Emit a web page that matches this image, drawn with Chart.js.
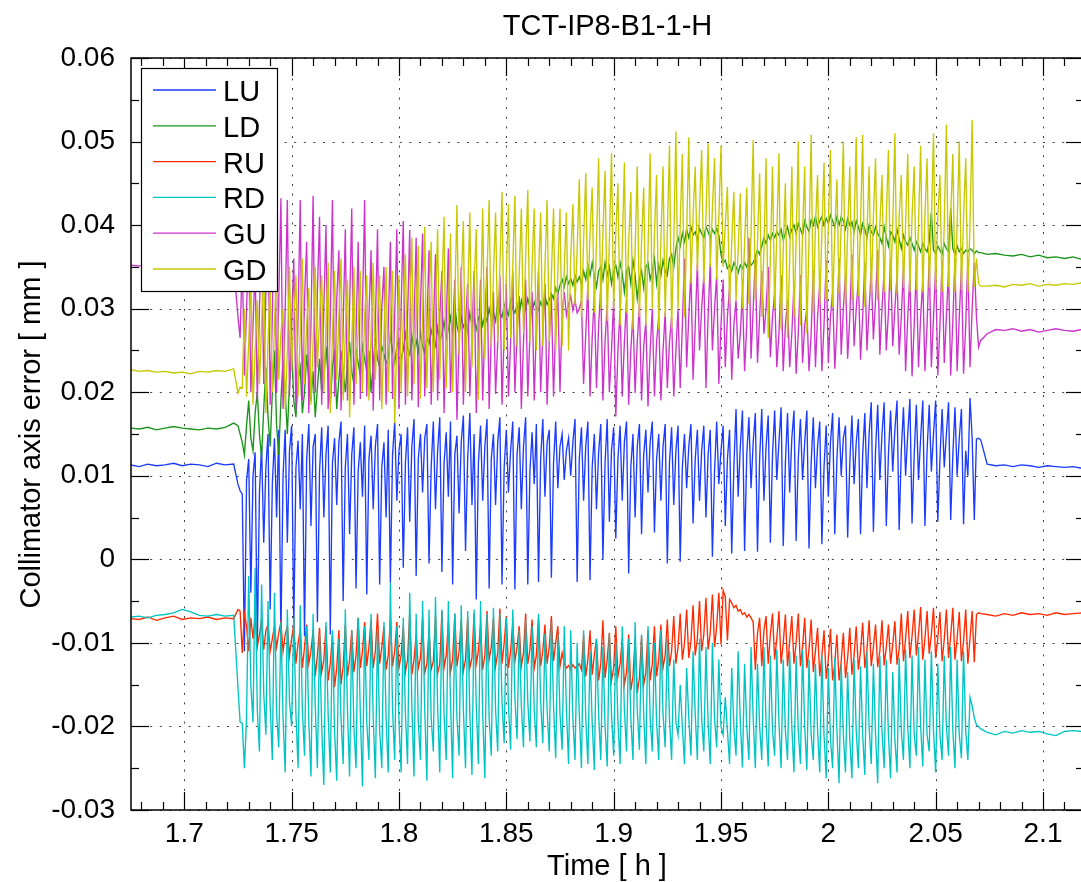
<!DOCTYPE html>
<html>
<head>
<meta charset="utf-8">
<title>TCT-IP8-B1-1-H</title>
<script src="https://cdn.jsdelivr.net/npm/chart.js@4"></script>
<style>
    html, body { margin: 0; padding: 0; background: #fff; overflow: hidden; }
    canvas { display: block; }
</style>
</head>
<body>
<canvas id="myChart" width="1090" height="882"></canvas>
<script>
/* data */
const time = [
    1.675,1.679,1.683,1.687,1.691,1.695,1.699,1.703,1.707,1.711,1.715,1.719,1.723,
    1.725,1.726,1.727,1.728,1.729,1.730,1.731,1.732,1.733,1.734,
    1.735,1.736,1.737,1.738,1.739,1.740,1.741,1.742,1.743,1.744,
    1.745,1.746,1.747,1.748,1.749,1.750,1.751,1.752,1.753,1.754,
    1.755,1.756,1.757,1.758,1.759,1.760,1.761,1.762,1.763,1.764,
    1.765,1.766,1.767,1.768,1.769,1.770,1.771,1.772,1.773,1.774,
    1.775,1.776,1.777,1.778,1.779,1.780,1.781,1.782,1.783,1.784,
    1.785,1.786,1.787,1.788,1.789,1.790,1.791,1.792,1.793,1.794,
    1.795,1.796,1.797,1.798,1.799,1.800,1.801,1.802,1.803,1.804,
    1.805,1.806,1.807,1.808,1.809,1.810,1.811,1.812,1.813,1.814,
    1.815,1.816,1.817,1.818,1.819,1.820,1.821,1.822,1.823,1.824,
    1.825,1.826,1.827,1.828,1.829,1.830,1.831,1.832,1.833,1.834,
    1.835,1.836,1.837,1.838,1.839,1.840,1.841,1.842,1.843,1.844,
    1.845,1.846,1.847,1.848,1.849,1.850,1.851,1.852,1.853,1.854,
    1.855,1.856,1.857,1.858,1.859,1.860,1.861,1.862,1.863,1.864,
    1.865,1.866,1.867,1.868,1.869,1.870,1.871,1.872,1.873,1.874,
    1.875,1.876,1.877,1.878,1.879,1.880,1.881,1.882,1.883,1.884,
    1.885,1.886,1.887,1.888,1.889,1.890,1.891,1.892,1.893,1.894,
    1.895,1.896,1.897,1.898,1.899,1.900,1.901,1.902,1.903,1.904,
    1.905,1.906,1.907,1.908,1.909,1.910,1.911,1.912,1.913,1.914,
    1.915,1.916,1.917,1.918,1.919,1.920,1.921,1.922,1.923,1.924,
    1.925,1.926,1.927,1.928,1.929,1.930,1.931,1.932,1.933,1.934,
    1.935,1.936,1.937,1.938,1.939,1.940,1.941,1.942,1.943,1.944,
    1.945,1.946,1.947,1.948,1.949,1.950,1.951,1.952,1.953,1.954,
    1.955,1.956,1.957,1.958,1.959,1.960,1.961,1.962,1.963,1.964,
    1.965,1.966,1.967,1.968,1.969,1.970,1.971,1.972,1.973,1.974,
    1.975,1.976,1.977,1.978,1.979,1.980,1.981,1.982,1.983,1.984,
    1.985,1.986,1.987,1.988,1.989,1.990,1.991,1.992,1.993,1.994,
    1.995,1.996,1.997,1.998,1.999,2.000,2.001,2.002,2.003,2.004,
    2.005,2.006,2.007,2.008,2.009,2.010,2.011,2.012,2.013,2.014,
    2.015,2.016,2.017,2.018,2.019,2.020,2.021,2.022,2.023,2.024,
    2.025,2.026,2.027,2.028,2.029,2.030,2.031,2.032,2.033,2.034,
    2.035,2.036,2.037,2.038,2.039,2.040,2.041,2.042,2.043,2.044,
    2.045,2.046,2.047,2.048,2.049,2.050,2.051,2.052,2.053,2.054,
    2.055,2.056,2.057,2.058,2.059,2.060,2.061,2.062,2.063,2.064,
    2.065,2.066,2.067,2.068,2.069,2.070,2.071,
    2.074,2.078,2.082,2.086,2.090,2.094,2.098,2.102,2.106,2.110,2.114,2.118,2.122
];

const LU = [
    0.0113,0.0111,0.0114,0.0112,0.0113,0.0115,0.0112,0.0114,0.0113,0.0111,0.0115,0.0113,0.0114,
    0.0090,0.0082,0.0078,-0.0110,0.0095,0.0120,-0.0040,0.0100,0.0128,-0.0105,
    0.0080,0.0135,0.0020,0.0110,0.0150,-0.0060,0.0090,0.0145,0.0050,0.0155,
    -0.0095,0.0100,0.0155,0.0020,0.0130,0.0160,-0.0085,0.0110,0.0142,0.0060,
    0.0150,-0.0092,0.0120,0.0162,0.0040,0.0135,0.0150,-0.0075,0.0105,0.0158,
    0.0050,0.0125,0.0160,-0.0090,0.0115,0.0145,0.0065,0.0140,0.0165,-0.0050,
    0.0110,0.0150,0.0030,0.0125,0.0158,-0.0035,0.0105,0.0140,0.0075,0.0160,
    -0.0042,0.0120,0.0148,0.0060,0.0135,0.0162,-0.0030,0.0110,0.0140,0.0050,
    0.0155,-0.0028,0.0125,0.0165,0.0070,0.0130,0.0150,-0.0010,0.0115,0.0158,
    0.0045,0.0135,0.0168,-0.0020,0.0120,0.0150,0.0080,0.0145,0.0162,-0.0005,
    0.0110,0.0165,0.0060,0.0130,0.0170,-0.0015,0.0115,0.0152,0.0075,0.0165,
    -0.0030,0.0125,0.0148,0.0055,0.0140,0.0172,0.0010,0.0120,0.0175,0.0065,
    0.0150,-0.0048,0.0115,0.0160,0.0070,0.0135,0.0168,-0.0035,0.0120,0.0150,
    0.0065,0.0140,0.0170,-0.0030,0.0110,0.0155,0.0080,0.0130,0.0165,-0.0036,
    0.0125,0.0158,0.0060,0.0135,0.0170,-0.0030,0.0105,0.0152,0.0090,0.0162,
    -0.0027,0.0120,0.0168,0.0075,0.0140,0.0155,-0.0022,0.0115,0.0165,0.0085,
    0.0135,0.0150,0.0095,0.0130,0.0145,0.0100,0.0140,0.0168,-0.0027,0.0120,
    0.0158,0.0070,0.0135,0.0165,-0.0025,0.0110,0.0150,0.0060,0.0128,0.0162,
    0.0000,0.0115,0.0168,0.0045,0.0130,0.0158,0.0025,0.0120,0.0160,0.0070,
    0.0140,0.0165,-0.0017,0.0110,0.0150,0.0050,0.0135,0.0162,0.0030,0.0125,
    0.0155,0.0080,0.0140,0.0165,0.0032,0.0120,0.0150,0.0070,0.0135,0.0162,
    -0.0005,0.0115,0.0158,0.0065,0.0130,0.0160,-0.0003,0.0110,0.0150,0.0085,
    0.0135,0.0162,0.0043,0.0120,0.0155,0.0070,0.0130,0.0160,0.0050,0.0125,
    0.0155,0.0003,0.0105,0.0165,0.0090,0.0130,0.0160,0.0040,0.0120,0.0155,
    0.0007,0.0110,0.0180,0.0075,0.0135,0.0178,0.0010,0.0125,0.0170,0.0085,
    0.0140,0.0175,0.0009,0.0120,0.0180,0.0070,0.0135,0.0172,0.0020,0.0125,
    0.0178,0.0095,0.0140,0.0182,0.0016,0.0115,0.0175,0.0080,0.0145,0.0178,
    0.0022,0.0120,0.0168,0.0095,0.0140,0.0178,0.0013,0.0115,0.0170,0.0085,
    0.0135,0.0165,0.0018,0.0110,0.0160,0.0075,0.0140,0.0175,0.0030,0.0120,
    0.0170,0.0100,0.0145,0.0160,0.0026,0.0115,0.0172,0.0090,0.0140,0.0168,
    0.0030,0.0125,0.0175,0.0085,0.0150,0.0188,0.0033,0.0130,0.0185,0.0095,
    0.0150,0.0188,0.0040,0.0125,0.0178,0.0105,0.0155,0.0190,0.0035,0.0130,
    0.0182,0.0100,0.0150,0.0192,0.0043,0.0125,0.0185,0.0095,0.0145,0.0190,
    0.0040,0.0130,0.0185,0.0105,0.0150,0.0190,0.0045,0.0120,0.0180,0.0110,
    0.0150,0.0188,0.0047,0.0125,0.0182,0.0100,0.0145,0.0180,0.0042,0.0130,
    0.0100,0.0193,0.0145,0.0047,0.0144,0.0145,0.0143,
    0.0114,0.0112,0.0113,0.0111,0.0113,0.0112,0.0110,0.0112,0.0111,0.0110,0.0111,0.0109,0.0110
];

const LD = [
    0.0157,0.0156,0.0158,0.0155,0.0157,0.0159,0.0157,0.0156,0.0155,0.0157,0.0156,0.0158,0.0163,
    0.0160,0.0150,0.0140,0.0125,0.0160,0.0190,0.0145,0.0130,0.0175,0.0200,
    0.0150,0.0122,0.0180,0.0230,0.0170,0.0135,0.0200,0.0250,0.0160,0.0125,
    0.0190,0.0240,0.0200,0.0150,0.0210,0.0255,0.0190,0.0170,0.0215,0.0230,
    0.0175,0.0200,0.0245,0.0215,0.0190,0.0225,0.0170,0.0205,0.0240,0.0200,
    0.0215,0.0255,0.0220,0.0185,0.0230,0.0250,0.0180,0.0215,0.0250,0.0225,
    0.0200,0.0235,0.0260,0.0225,0.0210,0.0250,0.0235,0.0220,0.0255,0.0240,
    0.0225,0.0250,0.0200,0.0235,0.0265,0.0240,0.0230,0.0255,0.0245,0.0235,
    0.0240,0.0270,0.0250,0.0235,0.0255,0.0262,0.0240,0.0250,0.0270,0.0252,
    0.0245,0.0268,0.0250,0.0262,0.0248,0.0272,0.0255,0.0247,0.0265,0.0258,
    0.0275,0.0262,0.0255,0.0278,0.0260,0.0270,0.0285,0.0265,0.0275,0.0290,
    0.0270,0.0305,0.0280,0.0268,0.0290,0.0278,0.0285,0.0272,0.0295,0.0280,
    0.0290,0.0275,0.0288,0.0295,0.0280,0.0292,0.0285,0.0300,0.0288,0.0295,
    0.0285,0.0310,0.0295,0.0290,0.0305,0.0298,0.0292,0.0310,0.0300,0.0295,
    0.0305,0.0292,0.0310,0.0300,0.0298,0.0312,0.0302,0.0295,0.0308,0.0300,
    0.0298,0.0308,0.0302,0.0315,0.0305,0.0310,0.0318,0.0312,0.0325,0.0318,
    0.0328,0.0335,0.0326,0.0338,0.0330,0.0336,0.0328,0.0340,0.0332,0.0338,
    0.0330,0.0345,0.0335,0.0352,0.0340,0.0355,0.0338,0.0326,0.0345,0.0350,
    0.0335,0.0355,0.0340,0.0350,0.0330,0.0345,0.0352,0.0338,0.0355,0.0342,
    0.0320,0.0345,0.0350,0.0330,0.0358,0.0340,0.0312,0.0335,0.0345,0.0325,
    0.0350,0.0355,0.0335,0.0345,0.0360,0.0330,0.0352,0.0340,0.0358,0.0345,
    0.0340,0.0360,0.0365,0.0350,0.0372,0.0385,0.0375,0.0390,0.0380,0.0395,
    0.0385,0.0398,0.0388,0.0392,0.0383,0.0396,0.0390,0.0385,0.0398,0.0392,
    0.0385,0.0395,0.0390,0.0396,0.0388,0.0365,0.0355,0.0358,0.0348,0.0352,
    0.0345,0.0355,0.0350,0.0343,0.0352,0.0348,0.0355,0.0350,0.0358,0.0352,
    0.0355,0.0362,0.0370,0.0365,0.0375,0.0385,0.0378,0.0388,0.0382,0.0390,
    0.0385,0.0392,0.0388,0.0395,0.0382,0.0390,0.0398,0.0386,0.0395,0.0400,
    0.0390,0.0402,0.0395,0.0388,0.0405,0.0398,0.0392,0.0406,0.0400,0.0410,
    0.0398,0.0405,0.0410,0.0400,0.0408,0.0402,0.0412,0.0405,0.0398,0.0410,
    0.0400,0.0410,0.0405,0.0395,0.0408,0.0400,0.0404,0.0392,0.0405,0.0398,
    0.0388,0.0402,0.0395,0.0385,0.0400,0.0392,0.0388,0.0398,0.0390,0.0385,
    0.0378,0.0398,0.0385,0.0375,0.0392,0.0388,0.0380,0.0395,0.0383,0.0372,
    0.0388,0.0380,0.0376,0.0385,0.0378,0.0370,0.0380,0.0375,0.0368,0.0378,
    0.0372,0.0368,0.0380,0.0415,0.0370,0.0366,0.0375,0.0370,0.0365,0.0378,
    0.0372,0.0368,0.0420,0.0372,0.0365,0.0375,0.0368,0.0372,0.0366,0.0370,
    0.0368,0.0372,0.0370,0.0366,0.0369,0.0367,0.0367,
    0.0365,0.0366,0.0364,0.0363,0.0365,0.0362,0.0364,0.0361,0.0362,0.0360,0.0362,0.0359,0.0360
];

const RU = [
    -0.0071,-0.0072,-0.0069,-0.0073,-0.0070,-0.0068,-0.0072,-0.0070,-0.0071,-0.0069,-0.0072,-0.0070,-0.0071,
    -0.0060,-0.0062,-0.0112,-0.0065,-0.0080,-0.0110,-0.0070,-0.0095,-0.0068,-0.0105,
    -0.0090,-0.0072,-0.0108,-0.0085,-0.0078,-0.0110,-0.0095,-0.0080,-0.0105,-0.0088,
    -0.0075,-0.0110,-0.0090,-0.0080,-0.0115,-0.0095,-0.0078,-0.0125,-0.0100,-0.0085,
    -0.0130,-0.0105,-0.0078,-0.0125,-0.0110,-0.0085,-0.0140,-0.0115,-0.0082,-0.0135,
    -0.0120,-0.0080,-0.0145,-0.0125,-0.0090,-0.0153,-0.0130,-0.0085,-0.0150,-0.0128,
    -0.0078,-0.0140,-0.0120,-0.0085,-0.0135,-0.0115,-0.0070,-0.0130,-0.0110,-0.0075,
    -0.0128,-0.0105,-0.0072,-0.0130,-0.0110,-0.0065,-0.0125,-0.0105,-0.0080,-0.0132,
    -0.0115,-0.0070,-0.0128,-0.0110,-0.0075,-0.0130,-0.0115,-0.0080,-0.0135,-0.0120,
    -0.0065,-0.0138,-0.0120,-0.0090,-0.0130,-0.0118,-0.0070,-0.0136,-0.0125,-0.0085,
    -0.0132,-0.0122,-0.0068,-0.0137,-0.0125,-0.0062,-0.0130,-0.0115,-0.0075,-0.0135,
    -0.0120,-0.0065,-0.0128,-0.0110,-0.0072,-0.0134,-0.0120,-0.0070,-0.0130,-0.0118,
    -0.0065,-0.0125,-0.0110,-0.0078,-0.0132,-0.0115,-0.0062,-0.0120,-0.0105,-0.0070,
    -0.0128,-0.0112,-0.0059,-0.0125,-0.0100,-0.0068,-0.0130,-0.0110,-0.0075,-0.0122,
    -0.0105,-0.0080,-0.0128,-0.0112,-0.0065,-0.0125,-0.0108,-0.0072,-0.0130,-0.0115,
    -0.0070,-0.0128,-0.0110,-0.0078,-0.0125,-0.0105,-0.0068,-0.0122,-0.0100,-0.0080,
    -0.0128,-0.0112,-0.0125,-0.0130,-0.0127,-0.0132,-0.0126,-0.0130,-0.0128,-0.0125,
    -0.0132,-0.0090,-0.0140,-0.0120,-0.0085,-0.0138,-0.0115,-0.0095,-0.0145,-0.0125,
    -0.0073,-0.0142,-0.0120,-0.0088,-0.0145,-0.0130,-0.0080,-0.0140,-0.0125,-0.0095,
    -0.0150,-0.0135,-0.0090,-0.0157,-0.0140,-0.0095,-0.0160,-0.0142,-0.0092,-0.0150,
    -0.0135,-0.0085,-0.0145,-0.0125,-0.0080,-0.0140,-0.0120,-0.0078,-0.0130,-0.0115,
    -0.0072,-0.0128,-0.0110,-0.0068,-0.0125,-0.0105,-0.0065,-0.0120,-0.0100,-0.0060,
    -0.0118,-0.0098,-0.0055,-0.0115,-0.0095,-0.0050,-0.0110,-0.0090,-0.0046,-0.0108,
    -0.0088,-0.0042,-0.0105,-0.0080,-0.0040,-0.0102,-0.0037,-0.0045,-0.0097,-0.0048,
    -0.0052,-0.0058,-0.0055,-0.0062,-0.0060,-0.0066,-0.0064,-0.0069,-0.0066,-0.0070,
    -0.0075,-0.0132,-0.0089,-0.0070,-0.0128,-0.0085,-0.0068,-0.0125,-0.0090,-0.0065,
    -0.0120,-0.0095,-0.0062,-0.0125,-0.0100,-0.0066,-0.0128,-0.0098,-0.0068,-0.0125,
    -0.0100,-0.0065,-0.0128,-0.0105,-0.0070,-0.0130,-0.0108,-0.0072,-0.0135,-0.0110,
    -0.0082,-0.0140,-0.0115,-0.0085,-0.0143,-0.0120,-0.0083,-0.0145,-0.0125,-0.0090,
    -0.0145,-0.0122,-0.0088,-0.0142,-0.0118,-0.0082,-0.0138,-0.0115,-0.0080,-0.0132,
    -0.0110,-0.0076,-0.0130,-0.0108,-0.0073,-0.0128,-0.0105,-0.0078,-0.0129,-0.0110,
    -0.0073,-0.0127,-0.0105,-0.0078,-0.0125,-0.0102,-0.0074,-0.0126,-0.0108,-0.0065,
    -0.0122,-0.0095,-0.0062,-0.0118,-0.0092,-0.0060,-0.0115,-0.0090,-0.0057,-0.0120,
    -0.0095,-0.0062,-0.0113,-0.0090,-0.0058,-0.0118,-0.0094,-0.0063,-0.0122,-0.0096,
    -0.0060,-0.0118,-0.0092,-0.0058,-0.0120,-0.0095,-0.0063,-0.0122,-0.0098,-0.0060,
    -0.0125,-0.0095,-0.0062,-0.0123,-0.0066,-0.0064,-0.0065,
    -0.0066,-0.0068,-0.0065,-0.0067,-0.0064,-0.0066,-0.0065,-0.0067,-0.0064,-0.0066,-0.0065,-0.0064,-0.0066
];

const RD = [
    -0.0069,-0.0068,-0.0070,-0.0067,-0.0066,-0.0064,-0.0060,-0.0063,-0.0067,-0.0068,-0.0066,-0.0068,-0.0067,
    -0.0153,-0.0195,-0.0196,-0.0250,-0.0190,-0.0020,-0.0150,-0.0195,-0.0010,-0.0180,
    -0.0230,-0.0030,-0.0160,-0.0210,-0.0050,-0.0175,-0.0240,-0.0040,-0.0185,-0.0225,
    -0.0075,-0.0190,-0.0255,-0.0060,-0.0170,-0.0200,-0.0070,-0.0185,-0.0250,-0.0055,
    -0.0180,-0.0235,-0.0080,-0.0195,-0.0260,-0.0065,-0.0175,-0.0250,-0.0090,-0.0200,
    -0.0270,-0.0075,-0.0185,-0.0255,-0.0085,-0.0205,-0.0265,-0.0095,-0.0190,-0.0245,
    -0.0060,-0.0180,-0.0260,-0.0085,-0.0200,-0.0250,-0.0070,-0.0185,-0.0272,-0.0080,
    -0.0195,-0.0240,-0.0065,-0.0190,-0.0262,-0.0085,-0.0205,-0.0250,-0.0075,-0.0190,
    -0.0255,-0.0028,-0.0180,-0.0240,-0.0080,-0.0195,-0.0255,-0.0070,-0.0185,-0.0245,
    -0.0040,-0.0175,-0.0260,-0.0065,-0.0195,-0.0240,-0.0050,-0.0180,-0.0265,-0.0060,
    -0.0190,-0.0230,-0.0045,-0.0175,-0.0255,-0.0060,-0.0185,-0.0240,-0.0050,-0.0170,
    -0.0262,-0.0065,-0.0190,-0.0235,-0.0055,-0.0180,-0.0250,-0.0062,-0.0185,-0.0258,
    -0.0060,-0.0175,-0.0245,-0.0050,-0.0185,-0.0262,-0.0065,-0.0190,-0.0235,-0.0058,
    -0.0180,-0.0230,-0.0065,-0.0170,-0.0220,-0.0070,-0.0175,-0.0228,-0.0060,-0.0165,
    -0.0215,-0.0085,-0.0175,-0.0225,-0.0072,-0.0170,-0.0218,-0.0080,-0.0180,-0.0225,
    -0.0065,-0.0170,-0.0220,-0.0089,-0.0180,-0.0230,-0.0075,-0.0175,-0.0238,-0.0090,
    -0.0185,-0.0228,-0.0080,-0.0180,-0.0245,-0.0085,-0.0190,-0.0240,-0.0100,-0.0185,
    -0.0250,-0.0085,-0.0190,-0.0245,-0.0110,-0.0195,-0.0252,-0.0095,-0.0185,-0.0240,
    -0.0105,-0.0200,-0.0248,-0.0090,-0.0185,-0.0235,-0.0100,-0.0195,-0.0245,-0.0080,
    -0.0180,-0.0230,-0.0095,-0.0190,-0.0240,-0.0075,-0.0180,-0.0228,-0.0090,-0.0185,
    -0.0245,-0.0080,-0.0190,-0.0230,-0.0100,-0.0195,-0.0240,-0.0085,-0.0185,-0.0225,
    -0.0095,-0.0190,-0.0240,-0.0120,-0.0195,-0.0210,-0.0150,-0.0200,-0.0245,-0.0130,
    -0.0190,-0.0235,-0.0110,-0.0185,-0.0240,-0.0095,-0.0190,-0.0230,-0.0105,-0.0195,
    -0.0245,-0.0100,-0.0190,-0.0225,-0.0120,-0.0200,-0.0210,-0.0165,-0.0205,-0.0245,
    -0.0130,-0.0200,-0.0235,-0.0110,-0.0195,-0.0249,-0.0125,-0.0200,-0.0240,-0.0105,
    -0.0190,-0.0250,-0.0125,-0.0200,-0.0240,-0.0105,-0.0195,-0.0248,-0.0115,-0.0205,
    -0.0235,-0.0108,-0.0195,-0.0250,-0.0120,-0.0205,-0.0240,-0.0110,-0.0200,-0.0255,
    -0.0115,-0.0205,-0.0245,-0.0108,-0.0200,-0.0252,-0.0120,-0.0210,-0.0240,-0.0125,
    -0.0205,-0.0255,-0.0115,-0.0210,-0.0262,-0.0130,-0.0215,-0.0250,-0.0118,-0.0205,
    -0.0268,-0.0125,-0.0210,-0.0255,-0.0135,-0.0215,-0.0262,-0.0120,-0.0205,-0.0250,
    -0.0128,-0.0210,-0.0258,-0.0110,-0.0200,-0.0245,-0.0125,-0.0210,-0.0268,-0.0115,
    -0.0205,-0.0250,-0.0120,-0.0210,-0.0262,-0.0135,-0.0215,-0.0255,-0.0118,-0.0205,
    -0.0240,-0.0108,-0.0200,-0.0250,-0.0115,-0.0210,-0.0235,-0.0105,-0.0200,-0.0248,
    -0.0120,-0.0210,-0.0230,-0.0110,-0.0205,-0.0255,-0.0125,-0.0210,-0.0240,-0.0115,
    -0.0200,-0.0235,-0.0105,-0.0205,-0.0250,-0.0120,-0.0210,-0.0238,-0.0110,-0.0205,
    -0.0240,-0.0165,-0.0175,-0.0190,-0.0198,-0.0200,-0.0203,
    -0.0207,-0.0210,-0.0206,-0.0208,-0.0205,-0.0207,-0.0206,-0.0209,-0.0211,-0.0206,-0.0205,-0.0206,-0.0204
];

const GU = [
    0.0352,0.0351,0.0353,0.0350,0.0352,0.0353,0.0351,0.0352,0.0350,0.0353,0.0351,0.0352,0.0352,
    0.0290,0.0265,0.0360,0.0220,0.0300,0.0380,0.0200,0.0280,0.0350,0.0190,
    0.0300,0.0395,0.0210,0.0320,0.0415,0.0185,0.0290,0.0457,0.0200,0.0310,
    0.0432,0.0180,0.0300,0.0430,0.0195,0.0280,0.0360,0.0178,0.0290,0.0430,
    0.0190,0.0310,0.0380,0.0175,0.0280,0.0435,0.0200,0.0320,0.0410,0.0185,
    0.0300,0.0400,0.0180,0.0290,0.0430,0.0195,0.0310,0.0370,0.0178,0.0280,
    0.0395,0.0190,0.0300,0.0420,0.0185,0.0270,0.0380,0.0192,0.0300,0.0430,
    0.0195,0.0290,0.0370,0.0178,0.0280,0.0395,0.0190,0.0300,0.0350,0.0185,
    0.0280,0.0380,0.0192,0.0290,0.0395,0.0180,0.0300,0.0405,0.0185,0.0290,
    0.0394,0.0190,0.0280,0.0385,0.0182,0.0300,0.0390,0.0195,0.0280,0.0370,
    0.0185,0.0270,0.0365,0.0190,0.0290,0.0345,0.0175,0.0280,0.0372,0.0199,
    0.0270,0.0335,0.0167,0.0260,0.0350,0.0185,0.0280,0.0330,0.0195,0.0270,
    0.0345,0.0175,0.0260,0.0335,0.0190,0.0280,0.0350,0.0180,0.0270,0.0320,
    0.0198,0.0260,0.0340,0.0185,0.0270,0.0330,0.0195,0.0260,0.0345,0.0200,
    0.0270,0.0315,0.0180,0.0260,0.0335,0.0195,0.0270,0.0320,0.0190,0.0280,
    0.0345,0.0200,0.0270,0.0330,0.0185,0.0260,0.0315,0.0195,0.0280,0.0320,
    0.0200,0.0295,0.0320,0.0292,0.0305,0.0315,0.0298,0.0310,0.0295,0.0300,
    0.0310,0.0210,0.0270,0.0330,0.0195,0.0265,0.0315,0.0205,0.0280,0.0325,
    0.0190,0.0260,0.0305,0.0200,0.0250,0.0310,0.0171,0.0250,0.0300,0.0195,
    0.0260,0.0310,0.0185,0.0250,0.0295,0.0199,0.0260,0.0305,0.0190,0.0255,
    0.0285,0.0183,0.0250,0.0300,0.0195,0.0260,0.0290,0.0190,0.0250,0.0295,
    0.0205,0.0260,0.0290,0.0195,0.0250,0.0300,0.0205,0.0280,0.0360,0.0230,
    0.0290,0.0345,0.0215,0.0280,0.0355,0.0250,0.0300,0.0340,0.0205,0.0290,
    0.0355,0.0250,0.0300,0.0340,0.0210,0.0280,0.0335,0.0230,0.0290,0.0326,
    0.0215,0.0280,0.0310,0.0240,0.0270,0.0320,0.0225,0.0280,0.0385,0.0240,
    0.0300,0.0360,0.0235,0.0290,0.0345,0.0270,0.0300,0.0350,0.0242,0.0290,
    0.0320,0.0230,0.0270,0.0340,0.0225,0.0280,0.0310,0.0230,0.0270,0.0330,
    0.0222,0.0270,0.0340,0.0235,0.0280,0.0300,0.0225,0.0270,0.0345,0.0230,
    0.0290,0.0330,0.0225,0.0280,0.0358,0.0235,0.0290,0.0320,0.0228,0.0280,
    0.0360,0.0245,0.0300,0.0340,0.0240,0.0290,0.0365,0.0255,0.0300,0.0335,
    0.0239,0.0290,0.0355,0.0250,0.0300,0.0345,0.0263,0.0310,0.0370,0.0245,
    0.0300,0.0345,0.0250,0.0295,0.0360,0.0255,0.0300,0.0340,0.0245,0.0290,
    0.0350,0.0225,0.0290,0.0340,0.0219,0.0280,0.0350,0.0230,0.0290,0.0335,
    0.0225,0.0280,0.0362,0.0230,0.0290,0.0350,0.0220,0.0280,0.0358,0.0235,
    0.0290,0.0345,0.0220,0.0285,0.0360,0.0225,0.0290,0.0350,0.0222,0.0280,
    0.0360,0.0230,0.0300,0.0355,0.0290,0.0254,0.0262,
    0.0270,0.0275,0.0274,0.0276,0.0273,0.0275,0.0272,0.0274,0.0276,0.0274,0.0273,0.0275,0.0274
];

const GD = [
    0.0227,0.0225,0.0226,0.0224,0.0225,0.0223,0.0224,0.0222,0.0225,0.0224,0.0226,0.0225,0.0228,
    0.0199,0.0206,0.0205,0.0300,0.0195,0.0260,0.0340,0.0185,0.0250,0.0310,
    0.0210,0.0280,0.0355,0.0175,0.0260,0.0330,0.0200,0.0280,0.0355,0.0215,
    0.0270,0.0300,0.0180,0.0250,0.0350,0.0225,0.0290,0.0340,0.0195,0.0270,
    0.0360,0.0210,0.0280,0.0325,0.0185,0.0260,0.0350,0.0230,0.0290,0.0340,
    0.0200,0.0280,0.0355,0.0175,0.0270,0.0345,0.0215,0.0290,0.0360,0.0190,
    0.0270,0.0335,0.0170,0.0260,0.0350,0.0210,0.0280,0.0345,0.0200,0.0290,
    0.0340,0.0190,0.0270,0.0355,0.0215,0.0290,0.0340,0.0180,0.0270,0.0350,
    0.0200,0.0280,0.0345,0.0163,0.0260,0.0340,0.0200,0.0290,0.0365,0.0195,
    0.0290,0.0385,0.0210,0.0300,0.0375,0.0192,0.0290,0.0398,0.0205,0.0310,
    0.0380,0.0200,0.0300,0.0395,0.0215,0.0320,0.0410,0.0205,0.0300,0.0390,
    0.0200,0.0310,0.0424,0.0245,0.0330,0.0405,0.0200,0.0310,0.0415,0.0230,
    0.0330,0.0395,0.0191,0.0300,0.0420,0.0240,0.0340,0.0430,0.0255,0.0340,
    0.0415,0.0260,0.0350,0.0440,0.0250,0.0340,0.0425,0.0265,0.0350,0.0435,
    0.0255,0.0340,0.0420,0.0270,0.0360,0.0442,0.0260,0.0350,0.0420,0.0250,
    0.0340,0.0415,0.0255,0.0350,0.0430,0.0260,0.0340,0.0420,0.0250,0.0345,
    0.0420,0.0255,0.0350,0.0415,0.0250,0.0360,0.0425,0.0305,0.0370,0.0455,
    0.0290,0.0380,0.0462,0.0310,0.0390,0.0445,0.0295,0.0380,0.0480,0.0300,
    0.0390,0.0465,0.0285,0.0380,0.0486,0.0300,0.0390,0.0450,0.0280,0.0370,
    0.0475,0.0295,0.0380,0.0440,0.0275,0.0370,0.0470,0.0290,0.0380,0.0445,
    0.0280,0.0370,0.0486,0.0300,0.0390,0.0460,0.0275,0.0380,0.0470,0.0290,
    0.0390,0.0495,0.0275,0.0380,0.0512,0.0300,0.0400,0.0485,0.0290,0.0390,
    0.0505,0.0330,0.0410,0.0470,0.0345,0.0420,0.0490,0.0330,0.0410,0.0498,
    0.0350,0.0420,0.0480,0.0335,0.0410,0.0495,0.0350,0.0400,0.0446,0.0305,
    0.0380,0.0440,0.0310,0.0370,0.0438,0.0300,0.0380,0.0445,0.0305,0.0390,
    0.0502,0.0310,0.0380,0.0462,0.0290,0.0370,0.0480,0.0265,0.0360,0.0470,
    0.0300,0.0390,0.0486,0.0275,0.0370,0.0450,0.0265,0.0360,0.0470,0.0290,
    0.0380,0.0500,0.0280,0.0390,0.0470,0.0270,0.0380,0.0508,0.0295,0.0400,
    0.0460,0.0305,0.0390,0.0475,0.0310,0.0400,0.0490,0.0302,0.0390,0.0455,
    0.0318,0.0400,0.0500,0.0305,0.0390,0.0470,0.0310,0.0400,0.0505,0.0315,
    0.0400,0.0508,0.0302,0.0390,0.0470,0.0318,0.0410,0.0480,0.0310,0.0400,
    0.0460,0.0320,0.0410,0.0490,0.0322,0.0400,0.0510,0.0318,0.0410,0.0460,
    0.0325,0.0400,0.0485,0.0320,0.0410,0.0470,0.0322,0.0400,0.0495,0.0320,
    0.0410,0.0480,0.0325,0.0400,0.0510,0.0322,0.0410,0.0460,0.0320,0.0400,
    0.0520,0.0326,0.0410,0.0485,0.0320,0.0400,0.0500,0.0322,0.0410,0.0480,
    0.0320,0.0400,0.0526,0.0326,0.0360,0.0330,0.0327,
    0.0327,0.0328,0.0326,0.0329,0.0328,0.0330,0.0327,0.0329,0.0328,0.0330,0.0329,0.0331,0.0330
];

const seriesNames = ['LU', 'LD', 'RU', 'RD', 'GU', 'GD'];
const seriesColors = ['#1b3cff', '#1a951a', '#ff2a00', '#00c4c4', '#cc33cc', '#c8c800'];
const seriesValues = [LU, LD, RU, RD, GU, GD];

const xTicks = [1.7, 1.75, 1.8, 1.85, 1.9, 1.95, 2, 2.05, 2.1];
const xTickLabels = ['1.7', '1.75', '1.8', '1.85', '1.9', '1.95', '2', '2.05', '2.1'];
const yTicks = [-0.03, -0.02, -0.01, 0, 0.01, 0.02, 0.03, 0.04, 0.05, 0.06];
const yTickLabels = ['-0.03', '-0.02', '-0.01', '0', '0.01', '0.02', '0.03', '0.04', '0.05', '0.06'];

const FONT = '"Liberation Sans", Arial, Helvetica, sans-serif';

/* matlab style axes: dotted grid, inward ticks, box, labels, legend */
const matlabAxes = {
    id: 'matlabAxes',
    beforeDatasetsDraw(chart) {
        const {ctx, chartArea: a, scales: {x, y}} = chart;
        ctx.save();
        ctx.strokeStyle = '#404040';
        ctx.lineWidth = 1;
        ctx.setLineDash([2, 7.6]);
        for (const v of xTicks) {
            const px = Math.round(x.getPixelForValue(v)) + 0.5;
            ctx.beginPath(); ctx.moveTo(px, a.bottom); ctx.lineTo(px, a.top); ctx.stroke();
        }
        for (const v of yTicks) {
            const py = Math.round(y.getPixelForValue(v)) + 0.5;
            ctx.beginPath(); ctx.moveTo(a.left, py); ctx.lineTo(a.right, py); ctx.stroke();
        }
        ctx.restore();
    },
    afterDatasetsDraw(chart) {
        const {ctx, chartArea: a, scales: {x, y}} = chart;
        ctx.save();
        ctx.strokeStyle = '#000';
        ctx.lineWidth = 1.5;
        ctx.strokeRect(a.left, a.top, a.right - a.left, a.bottom - a.top);

        ctx.lineWidth = 1.2;
        const tick = (x1, y1, x2, y2) => { ctx.beginPath(); ctx.moveTo(x1, y1); ctx.lineTo(x2, y2); ctx.stroke(); };
        // x ticks, major every 0.05, minor every 0.01
        for (let i = 168; i <= 211; i++) {
            const len = i % 5 === 0 ? 18 : 8;
            const px = Math.round(x.getPixelForValue(i / 100)) + 0.5;
            tick(px, a.bottom, px, a.bottom - len);
            tick(px, a.top, px, a.top + len);
        }
        // y ticks, major every 0.01, minor every 0.005
        for (let i = -6; i <= 12; i++) {
            const len = i % 2 === 0 ? 18 : 8;
            const py = Math.round(y.getPixelForValue(i / 200)) + 0.5;
            tick(a.left, py, a.left + len, py);
            tick(a.right, py, a.right - len, py);
        }

        // title and axis labels
        ctx.fillStyle = '#000';
        ctx.font = '29px ' + FONT;
        ctx.textAlign = 'center';
        ctx.textBaseline = 'alphabetic';
        ctx.fillText('TCT-IP8-B1-1-H', 607.5, 35);
        ctx.fillText('Time [ h ]', 607, 875);
        ctx.save();
        ctx.translate(40, 434.5);
        ctx.rotate(-Math.PI / 2);
        ctx.fillText('Collimator axis error [ mm ]', 0, 0);
        ctx.restore();

        // legend
        const lx = 141, ly = 68, lw = 136, lh = 223;
        ctx.fillStyle = '#fff';
        ctx.fillRect(lx, ly, lw, lh);
        ctx.strokeStyle = '#000';
        ctx.lineWidth = 1.2;
        ctx.strokeRect(lx + 0.5, ly + 0.5, lw, lh);
        ctx.textAlign = 'left';
        seriesNames.forEach(function(name, i) {
            const ry = 90 + i * 35.8;
            ctx.strokeStyle = seriesColors[i];
            ctx.lineWidth = 1.3;
            ctx.beginPath(); ctx.moveTo(153, ry); ctx.lineTo(216, ry); ctx.stroke();
            ctx.fillStyle = '#000';
            ctx.fillText(name, 223, ry + 11);
        });
        ctx.restore();
    }
};

const datasets = seriesNames.map(function(name, i) {
    return {
        label: name,
        data: time.map(function(t, k) { return {x: t, y: seriesValues[i][k]}; }),
        borderColor: seriesColors[i],
        borderWidth: 1.35,
        pointRadius: 0,
        tension: 0,
        fill: false,
        order: seriesNames.length - 1 - i
    };
});

const ctx = document.getElementById('myChart');
const myChart = new Chart(ctx, {
    type: 'line',
    data: { datasets: datasets },
    options: {
        responsive: false,
        animation: false,
        devicePixelRatio: 1,
        layout: { padding: { top: 58, right: 6, bottom: 0, left: 0 } },
        plugins: {
            legend: { display: false },
            title: { display: false },
            tooltip: { enabled: false }
        },
        scales: {
            x: {
                type: 'linear',
                min: 1.67517,
                max: 2.1191,
                grid: { display: false },
                border: { display: false },
                afterBuildTicks: function(scale) { scale.ticks = xTicks.map(function(v) { return {value: v}; }); },
                afterFit: function(scale) { scale.height = 72; },
                ticks: {
                    autoSkip: false,
                    maxRotation: 0,
                    minRotation: 0,
                    padding: -1,
                    color: '#000',
                    font: { family: FONT, size: 28 },
                    callback: function(v, i) { return xTickLabels[i]; }
                }
            },
            y: {
                type: 'linear',
                min: -0.03,
                max: 0.06,
                grid: { display: false },
                border: { display: false },
                afterBuildTicks: function(scale) { scale.ticks = yTicks.map(function(v) { return {value: v}; }); },
                afterFit: function(scale) { scale.width = 131; },
                ticks: {
                    autoSkip: false,
                    padding: 8,
                    color: '#000',
                    font: { family: FONT, size: 28 },
                    callback: function(v, i) { return yTickLabels[i]; }
                }
            }
        }
    },
    plugins: [matlabAxes]
});
</script>
</body>
</html>
